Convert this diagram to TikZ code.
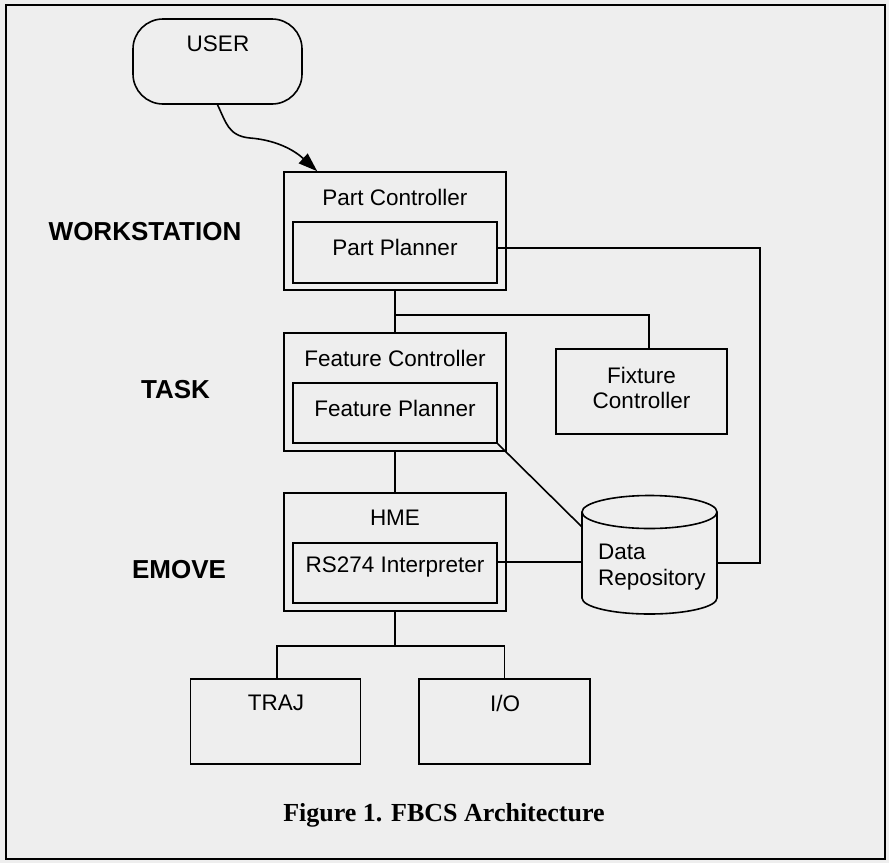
\documentclass[tikz,border=0pt]{standalone}
\usepackage{fontspec}
\setmainfont{Liberation Sans}
\newfontfamily\capfont{Liberation Serif}
\usetikzlibrary{arrows.meta,calc}
\definecolor{bg}{RGB}{238,238,238}
\tikzset{
  box/.style={draw, line width=1.6pt, inner sep=0pt, fill=none},
  lbl/.style={inner sep=0pt, font=\fontsize{22.5}{25.5}\selectfont},
  lvl/.style={inner sep=0pt, font=\fontsize{26}{29}\selectfont\bfseries},
  wire/.style={line width=1.6pt},
}
\begin{document}
\begin{tikzpicture}[x=1pt,y=-1pt]
\useasboundingbox (0,0) rectangle (889,863);
\fill[bg] (0,0) rectangle (889,863);
\draw[line width=2pt] (6,5) rectangle (885,859);

% USER
\node[box, rounded corners=30pt, minimum width=169pt, minimum height=85pt] (user) at (217.5,61.5) {};
\node[lbl] (usert) at (218,44) {USER};

% level labels
\node[lvl] (ws) at (145,232) {WORKSTATION};
\node[lvl] (task) at (175.5,390) {TASK};
\node[lvl] (emove) at (179,570) {EMOVE};

% Part controller
\node[box, minimum width=222pt, minimum height=118pt] (pc) at (395,231) {};
\node[box, minimum width=204pt, minimum height=61pt] (pp) at (395,252.5) {};
\node[lbl] (pct) at (395,197) {Part Controller};
\node[lbl] (ppt) at (395,247) {Part Planner};

% Feature controller
\node[box, minimum width=222pt, minimum height=118pt] (fc) at (395,392) {};
\node[box, minimum width=204pt, minimum height=60pt] (fp) at (395,413) {};
\node[lbl] (fct) at (395,358) {Feature Controller};
\node[lbl] (fpt) at (395,408) {Feature Planner};

% HME
\node[box, minimum width=222pt, minimum height=118pt] (hme) at (395,552) {};
\node[box, minimum width=204pt, minimum height=60pt] (rs) at (395,573) {};
\node[lbl] (hmet) at (395,518) {HME};
\node[lbl] (rst) at (395,567) {RS274 Interpreter};

% Fixture controller
\node[box, minimum width=171pt, minimum height=85pt] (fx) at (641.5,391.5) {};
\node[lbl, align=center] (fxt) at (641.5,388) {Fixture\\Controller};

% TRAJ and I/O
\node[box, minimum width=170pt, minimum height=85pt] (traj) at (275.5,721.5) {};
\node[lbl] (trajt) at (276,703) {TRAJ};
\node[box, minimum width=171pt, minimum height=85pt] (io) at (504.5,721.5) {};
\node[lbl] (iot) at (505,703) {I/O};

% Data repository (cylinder)
\node[inner sep=0pt, minimum width=135pt, minimum height=118pt] (dr) at (649.5,554) {};
\draw[line width=1.6pt] (582,512) -- (582,598)
  arc[start angle=180, end angle=360, x radius=67.5pt, y radius=16pt] -- (717,512);
\draw[line width=1.6pt] (649.5,512) ellipse[x radius=67.5pt, y radius=16.5pt];
\node[lbl, align=left, anchor=west] (drt) at (598,567) {Data\\Repository};

% connectors
\coordinate (tip) at ($(pc.north west)+(34,0)$);
\draw[wire, -{Triangle[length=19pt,width=13pt]}] (user.south)
  .. controls (226,122) and (228,136) .. (250,138)
  .. controls (276,140) and (294,150) .. (tip);

\coordinate (j1) at (395,315);
\draw[wire] (pc.south) -- (fc.north);
\draw[wire] (j1) -| ($(fx.north)+(7.5,0)$);
\draw[wire] (fc.south) -- (hme.north);

\coordinate (j2) at (395,646);
\draw[wire] (hme.south) -- (j2);
\draw[wire] ($(traj.north)+(1.5,0)$) |- (j2) -| (io.north);

\coordinate (drr) at (717,563);
\draw[wire] ($(pp.east)+(0,-4.5)$) -- (760,248) |- (drr);
\draw[wire] (fp.south east) -- (582,527);
\draw[wire] ($(rs.east)+(0,-11)$) -- (582,562);

% caption
\node[inner sep=0pt, font=\capfont\fontsize{26}{30}\selectfont\bfseries] (cap) at (444,815) {Figure 1. FBCS Architecture};
\end{tikzpicture}
\end{document}
